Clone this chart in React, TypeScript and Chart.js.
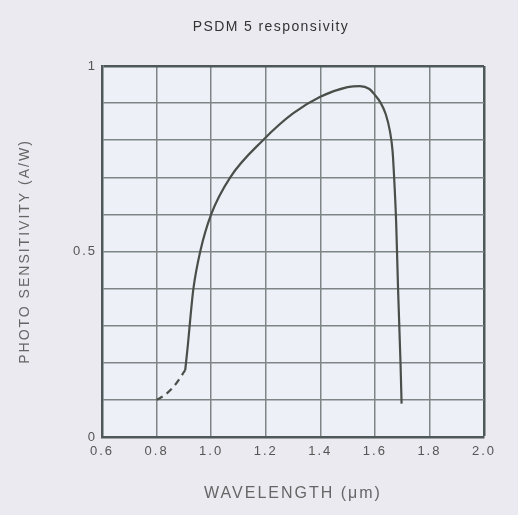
import React, { useEffect, useRef } from "react";
import { Chart, registerables } from "chart.js";

Chart.register(...registerables);

const chartTitle = "PSDM 5 responsivity";
const xAxisTitle = "WAVELENGTH (μm)";
const yAxisTitle = "PHOTO SENSITIVITY (A/W)";

// dashed (extrapolated) segment
const dashedX = [0.8, 0.83, 0.865, 0.905];
const dashedY = [0.1, 0.113, 0.138, 0.18];

// measured responsivity
const solidX = [0.905, 0.915, 0.925, 0.935, 0.96, 1.0, 1.07, 1.19, 1.3, 1.4, 1.5, 1.545, 1.58, 1.6, 1.62, 1.64, 1.655, 1.665, 1.672, 1.678, 1.685, 1.694, 1.698];
const solidY = [0.18, 0.25, 0.33, 0.4, 0.5, 0.6, 0.7, 0.8, 0.872, 0.917, 0.943, 0.946, 0.938, 0.922, 0.902, 0.87, 0.825, 0.77, 0.68, 0.58, 0.4, 0.2, 0.09];

const yTickLabels = [0, 0.5, 1];

const FONT = "'Liberation Sans', Arial, sans-serif";
const GRID = "#7d8585";
const FRAME = "#4f5858";

export default function App() {
  const ref = useRef<HTMLCanvasElement | null>(null);

  useEffect(() => {
    if (!ref.current) return;
    const ctx0 = ref.current.getContext("2d") as any;
    if (ctx0) ctx0.letterSpacing = "2px";
    const bgPlugin = {
      id: "bgs",
      beforeInit(chart: any) {
        chart.ctx.letterSpacing = "2px";
      },
      beforeDraw(chart: any) {
        const { ctx, chartArea } = chart;
        ctx.save();
        ctx.fillStyle = "#eaeaf0";
        ctx.fillRect(0, 0, chart.width, chart.height);
        ctx.fillStyle = "#eef0f7";
        ctx.fillRect(chartArea.left, chartArea.top, chartArea.right - chartArea.left, chartArea.bottom - chartArea.top);
        ctx.restore();
        ctx.letterSpacing = "2px";
      },
      afterDraw(chart: any) {
        const { ctx } = chart;
        ctx.save();
        ctx.letterSpacing = "1.4px";
        ctx.fillStyle = "#333";
        ctx.font = `14px ${FONT}`;
        ctx.textAlign = "center";
        ctx.textBaseline = "middle";
        ctx.fillText(chartTitle, 271, 27);
        ctx.restore();
      },
    };

    const chart = new Chart(ref.current, {
      type: "line",
      data: {
        datasets: [
          {
            data: dashedX.map((x, i) => ({ x, y: dashedY[i] })),
            borderColor: "#4a4f4a",
            borderWidth: 2.2,
            borderDash: [7, 5],
            pointRadius: 0,
            cubicInterpolationMode: "monotone",
            fill: false,
          },
          {
            data: solidX.map((x, i) => ({ x, y: solidY[i] })),
            borderColor: "#4a4f4a",
            borderWidth: 2.2,
            pointRadius: 0,
            cubicInterpolationMode: "monotone",
            fill: false,
          },
        ],
      },
      options: {
        animation: false,
        responsive: false,
        layout: { padding: { left: 0, right: 34, top: 66, bottom: 0 } },
        plugins: { legend: { display: false }, title: { display: false }, tooltip: { enabled: false } },
        scales: {
          x: {
            type: "linear",
            min: 0.6,
            max: 2.0,
            afterFit: (s: any) => { s.height = 78; },
            ticks: {
              stepSize: 0.2,
              color: "#555",
              font: { family: FONT, size: 13 },
              padding: 7,
              maxRotation: 0,
              callback: (v: any) => Number(v).toFixed(1),
            },
            grid: {
              drawTicks: false,
              color: (c: any) => (Math.abs(c.tick.value - 2) < 1e-6 ? FRAME : GRID),
              lineWidth: (c: any) => (Math.abs(c.tick.value - 2) < 1e-6 ? 2.5 : 1.5),
            },
            border: { display: true, color: FRAME, width: 2.5 },
            title: {
              display: true,
              text: xAxisTitle,
              color: "#666",
              font: { family: FONT, size: 16 },
              padding: { top: 0, bottom: 12 },
            },
          },
          y: {
            type: "linear",
            min: 0,
            max: 1,
            afterFit: (s: any) => { s.width = 102; },
            ticks: {
              stepSize: 0.1,
              color: "#555",
              font: { family: FONT, size: 13 },
              padding: 5,
              callback: (v: any) => {
                const n = Number(v);
                const hit = yTickLabels.find((t) => Math.abs(t - n) < 1e-6);
                return hit === undefined ? "" : String(hit);
              },
            },
            grid: {
              drawTicks: false,
              color: (c: any) => (Math.abs(c.tick.value - 1) < 1e-6 ? FRAME : GRID),
              lineWidth: (c: any) => (Math.abs(c.tick.value - 1) < 1e-6 ? 2.5 : 1.5),
            },
            border: { display: true, color: FRAME, width: 2.5 },
            title: {
              display: true,
              text: yAxisTitle,
              color: "#666",
              font: { family: FONT, size: 14 },
              padding: { top: 17, bottom: 0 },
            },
          },
        },
      },
      plugins: [bgPlugin],
    });
    return () => chart.destroy();
  }, []);

  return (
    <div style={{ position: "fixed", left: 0, top: 0, width: 518, height: 515, background: "#eaeaf0" }}>
      <canvas ref={ref} width={518} height={515} style={{ display: "block" }} />
    </div>
  );
}
